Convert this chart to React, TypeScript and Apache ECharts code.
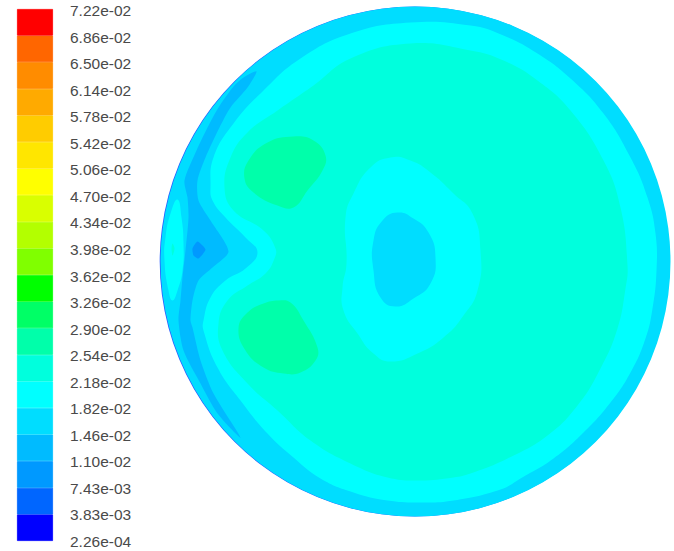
import React, { useEffect, useRef } from "react";
import * as echarts from "echarts";

// Colour scale, bottom level first
const LEVEL_LABELS = [
  "2.26e-04", "3.83e-03", "7.43e-03", "1.10e-02", "1.46e-02", "1.82e-02", "2.18e-02",
  "2.54e-02", "2.90e-02", "3.26e-02", "3.62e-02", "3.98e-02", "4.34e-02", "4.70e-02",
  "5.06e-02", "5.42e-02", "5.78e-02", "6.14e-02", "6.50e-02", "6.86e-02", "7.22e-02",
];
const LEVEL_COLORS = [
  "#0000ff", "#0066ff", "#0099ff", "#00bbff", "#00ddff", "#00ffff", "#00ffdd", "#00ffaa",
  "#00ff66", "#00ff00", "#80ff00", "#b3ff00", "#d9ff00", "#ffff00", "#ffe600", "#ffcc00",
  "#ffaa00", "#ff8c00", "#ff6600", "#ff0000",
];

// Contour outlines, domain units relative to the disc centre (y up)
const DISC_RADIUS = 255;
const BAND_LOW_LEFT = [[-159,190],[-168,174],[-185,154],[-196,134],[-210,104],[-218,81],[-217,61],[-205,41],[-187,10],[-203,-6],[-217,-19],[-223,-39],[-225,-59],[-223,-66],[-215,-99],[-202,-132],[-175,-176],[-198,-152],[-215,-122],[-232,-89],[-237,-59],[-235,-39],[-233,-16],[-230,11],[-227,44],[-228,64],[-231,81],[-219,111],[-208,134],[-197,154],[-182,175],[-172,184]];
const SPOT_LOWEST = [[-218,20],[-210,12],[-217,3],[-222,6],[-223,13]];
const RING_CYAN = [[-5,239],[55,236],[88,226],[122,208],[155,183],[188,148],[215,104],[232,64],[240,28],[241,-9],[237,-47],[230,-77],[215,-111],[195,-141],[168,-171],[138,-197],[105,-217],[85,-228],[38,-239],[5,-241],[-28,-239],[-62,-231],[-95,-217],[-122,-196],[-148,-172],[-175,-139],[-198,-106],[-212,-69],[-212,-59],[-205,-36],[-190,-19],[-170,-7],[-158,9],[-170,24],[-190,44],[-203,61],[-205,74],[-202,104],[-182,138],[-152,171],[-115,203],[-65,228]];
const CORE_TEAL = [[-5,218],[55,211],[88,201],[122,181],[155,151],[188,101],[205,54],[212,-4],[210,-27],[202,-67],[185,-107],[162,-144],[132,-174],[92,-197],[55,-212],[38,-216],[5,-219],[-28,-216],[-65,-202],[-105,-179],[-138,-149],[-168,-122],[-193,-89],[-197,-62],[-188,-39],[-168,-24],[-150,-12],[-141,3],[-140,13],[-152,31],[-182,51],[-191,74],[-185,104],[-168,129],[-138,151],[-102,176],[-65,203]];
const LOBE_CYAN = [[-238,62],[-234,44],[-232,18],[-233,-9],[-238,-29],[-243,-39],[-247,-29],[-251,1],[-250,24],[-245,48]];
const LOBE_TEAL = [[-243,18],[-241,13],[-243,6],[-244,13]];
const BLOB_UPPER = [[-122,125],[-102,121],[-90,106],[-93,91],[-108,71],[-122,54],[-138,56],[-162,69],[-171,83],[-167,101],[-148,119]];
const BLOB_LOWER = [[-137,-39],[-125,-41],[-112,-59],[-98,-86],[-100,-99],[-115,-111],[-132,-112],[-152,-106],[-170,-89],[-177,-67],[-168,-51],[-152,-42]];
const CENTRE_CYAN = [[-25,104],[-5,101],[15,89],[38,68],[57,48],[65,11],[62,-29],[48,-54],[28,-76],[2,-92],[-25,-100],[-42,-92],[-58,-72],[-72,-49],[-73,-26],[-69,-2],[-70,44],[-62,68],[-45,94]];
const CENTRE_LOW = [[-18,49],[-2,43],[13,29],[20,4],[15,-22],[-2,-37],[-20,-45],[-35,-36],[-42,-9],[-42,21],[-33,41]];

const LAYERS: { pts: number[][]; color: string; smooth: number }[] = [
  { pts: BAND_LOW_LEFT, color: "#00bbff", smooth: 0.25 },
  { pts: SPOT_LOWEST, color: "#0099ff", smooth: 0.2 },
  { pts: LOBE_CYAN, color: "#00ffff", smooth: 0.5 },
  { pts: LOBE_TEAL, color: "#00ffdd", smooth: 0.3 },
  { pts: RING_CYAN, color: "#00ffff", smooth: 0.45 },
  { pts: CORE_TEAL, color: "#00ffdd", smooth: 0.45 },
  { pts: BLOB_UPPER, color: "#00ffaa", smooth: 0.45 },
  { pts: BLOB_LOWER, color: "#00ffaa", smooth: 0.45 },
  { pts: CENTRE_CYAN, color: "#00ffff", smooth: 0.5 },
  { pts: CENTRE_LOW, color: "#00ddff", smooth: 0.5 },
];

export default function App() {
  const ref = useRef<HTMLDivElement>(null);
  useEffect(() => {
    document.body.style.margin = "0";
    const chart = echarts.init(ref.current!, null, { renderer: "svg" });
    chart.setOption({
      animation: false,
      backgroundColor: "#ffffff",
      grid: [
        { left: 17, top: 9, width: 36, height: 532 },
        { left: 160.5, top: 6.5, width: 510, height: 510 },
        { left: 17, top: 10.7, width: 36, height: 530.6 },
      ],
      xAxis: [
        { gridIndex: 0, type: "category", data: ["level"], show: false },
        { gridIndex: 1, type: "value", min: -DISC_RADIUS, max: DISC_RADIUS, show: false },
        { gridIndex: 2, type: "category", data: ["level"], show: false },
      ],
      yAxis: [
        { gridIndex: 0, type: "value", min: 0, max: 20, interval: 1, show: false },
        { gridIndex: 1, type: "value", min: -DISC_RADIUS, max: DISC_RADIUS, show: false },
        {
          gridIndex: 2,
          type: "value",
          min: 0,
          max: 20,
          interval: 1,
          position: "right",
          axisLine: { show: false },
          axisTick: { show: false },
          splitLine: { show: false },
          axisLabel: {
            margin: 17,
            fontFamily: "Liberation Sans",
            fontSize: 15.5,
            color: "#4a4a4a",
            formatter: (v: number) => LEVEL_LABELS[v],
          },
        },
      ],
      series: [
        ...LEVEL_COLORS.map((color) => ({
          type: "bar",
          xAxisIndex: 0,
          yAxisIndex: 0,
          stack: "levels",
          barWidth: "100%",
          data: [1],
          itemStyle: { color, borderColor: color, borderWidth: 0.8 },
          silent: true,
        })),
        {
          type: "custom",
          xAxisIndex: 1,
          yAxisIndex: 1,
          silent: true,
          clip: false,
          data: [[0, 0, DISC_RADIUS]],
          renderItem: (_: any, api: any) => {
            const c = api.coord([api.value(0), api.value(1)]);
            const e = api.coord([api.value(0) + api.value(2), 0]);
            const r = e[0] - c[0];
            return {
              type: "group",
              children: [
                { type: "circle", shape: { cx: c[0] - 0.8, cy: c[1], r }, style: { fill: "#2a5cff" } },
                { type: "circle", shape: { cx: c[0], cy: c[1], r }, style: { fill: "#00ddff" } },
              ],
            };
          },
        },
        {
          type: "custom",
          xAxisIndex: 1,
          yAxisIndex: 1,
          silent: true,
          clip: false,
          data: LAYERS.map((_, i) => [i, 0]),
          renderItem: (_: any, api: any) => {
            const layer = LAYERS[api.value(0)];
            return {
              type: "polygon",
              shape: { points: layer.pts.map((p) => api.coord(p)), smooth: layer.smooth },
              style: { fill: layer.color },
            };
          },
        },
      ],
    });
    return () => chart.dispose();
  }, []);
  return <div ref={ref} style={{ width: 674, height: 551 }} />;
}
